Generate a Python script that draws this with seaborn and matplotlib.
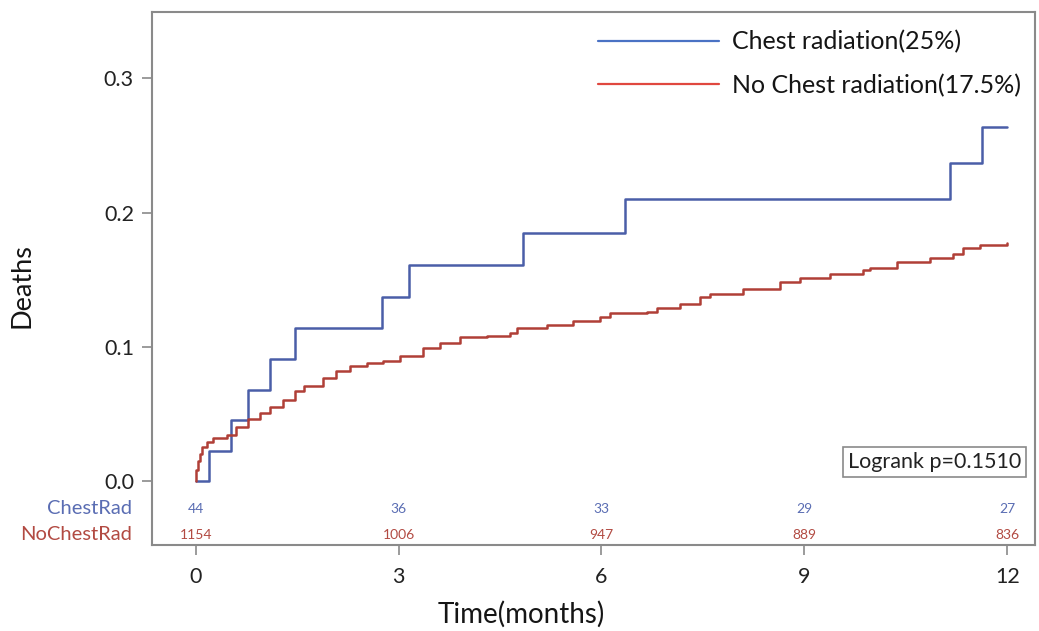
import numpy as np
import pandas as pd
import matplotlib
matplotlib.use("Agg")
import matplotlib.pyplot as plt
import matplotlib.transforms as mtransforms
from matplotlib.lines import Line2D
import seaborn as sns

# ---- data ----
chest_time = [0, 0.19, 0.52, 0.77, 1.10, 1.47, 2.76, 3.15, 4.84, 6.35, 11.15, 11.63, 12.0]
chest_cuminc = [0, 0.0227, 0.0455, 0.068, 0.091, 0.114, 0.137, 0.161, 0.185, 0.210, 0.237, 0.264, 0.264]

nochest_time = [0, 0.01, 0.03, 0.06, 0.10, 0.16, 0.25, 0.46, 0.60, 0.78, 0.95, 1.10, 1.29,
                1.47, 1.60, 1.88, 2.08, 2.28, 2.53, 2.77, 3.02, 3.36, 3.61, 3.91, 4.30,
                4.64, 4.75, 5.19, 5.58, 5.98, 6.12, 6.67, 6.82, 7.16, 7.46, 7.60, 8.00,
                8.09, 8.64, 8.93, 9.38, 9.87, 9.97, 10.37, 10.86, 11.20, 11.35, 11.60, 12.0]
nochest_cuminc = [0, 0.008, 0.015, 0.020, 0.025, 0.029, 0.032, 0.034, 0.040, 0.046, 0.051, 0.055, 0.060,
                  0.067, 0.071, 0.077, 0.082, 0.086, 0.088, 0.0896, 0.093, 0.099, 0.103, 0.107, 0.108,
                  0.110, 0.114, 0.116, 0.119, 0.122, 0.125, 0.126, 0.129, 0.132, 0.137, 0.139, 0.139,
                  0.143, 0.148, 0.151, 0.154, 0.157, 0.159, 0.163, 0.166, 0.169, 0.174, 0.176, 0.177]

series_labels = ["Chest radiation(25%)", "No Chest radiation(17.5%)"]
risk_groups = ["ChestRad", "NoChestRad"]
risk_times = [0, 3, 6, 9, 12]
risk_chest = [44, 36, 33, 29, 27]
risk_nochest = [1154, 1006, 947, 889, 836]
x_ticks = [0, 3, 6, 9, 12]
y_ticks = [0.0, 0.1, 0.2, 0.3]
logrank_text = "Logrank p=0.1510"

# ---- style ----
sns.set_style("white")
plt.rcParams["font.family"] = ["Lato", "DejaVu Sans"]

line_blue = "#4a5ea8"
line_red = "#b03f37"
leg_blue = "#4a72c4"
leg_red = "#e0473f"
txt_blue = "#5a6db3"
txt_red = "#b24a42"
frame_gray = "#8a8a8a"
text_dark = "#151515"

W, H = 1039, 631
fig = plt.figure(figsize=(W / 100, H / 100), dpi=100)
ax = fig.add_axes([152 / W, 1 - 545 / H, (1035 - 152) / W, (545 - 12) / H])

df = pd.concat([
    pd.DataFrame({"Time": chest_time, "Deaths": chest_cuminc, "Group": series_labels[0]}),
    pd.DataFrame({"Time": nochest_time, "Deaths": nochest_cuminc, "Group": series_labels[1]}),
])

sns.lineplot(data=df, x="Time", y="Deaths", hue="Group", estimator=None, sort=False,
             palette={series_labels[0]: line_blue, series_labels[1]: line_red},
             drawstyle="steps-post", linewidth=1.8, ax=ax, legend=False)

ax.set_xlim(-0.646, 12.41)
ax.set_ylim(-0.0477, 0.3495)
ax.set_xticks(x_ticks)
ax.set_xticklabels([str(t) for t in x_ticks])
ax.set_yticks(y_ticks)
ax.set_yticklabels([f"{v:.1f}" for v in y_ticks])

for s in ax.spines.values():
    s.set_visible(True)
    s.set_color(frame_gray)
    s.set_linewidth(1.5)

ax.tick_params(axis="both", which="major", direction="out", length=7, width=1.2,
               color=frame_gray, labelsize=15.5, labelcolor="#222222")
ax.tick_params(axis="y", pad=6)
ax.tick_params(axis="x", pad=9)
ax.tick_params(axis="both", left=True, bottom=True)

ax.set_xlabel("Time(months)", fontsize=20, color=text_dark)
ax.set_ylabel("Deaths", fontsize=19.5, color=text_dark)
ax.xaxis.set_label_coords((521 - 152) / 883, (545 - 614) / 533)
ax.xaxis.label.set_va("center")
ax.yaxis.set_label_coords((22 - 152) / 883, (545 - 286) / 533)
ax.yaxis.label.set_va("center")

# legend
handles = [Line2D([], [], color=leg_blue, lw=1.6), Line2D([], [], color=leg_red, lw=1.6)]
leg = fig.legend(handles, series_labels, loc="upper left",
                 bbox_to_anchor=(598 / W, 1 - 30 / H), frameon=False,
                 fontsize=18, handlelength=4.85, handletextpad=0.52,
                 labelspacing=0.82, borderpad=0, borderaxespad=0)
for t in leg.get_texts():
    t.set_color(text_dark)

# number at risk
risk_y = [-0.0205, -0.0400]
for x, c in zip(risk_times, risk_chest):
    ax.text(x, risk_y[0], str(c), ha="center", va="center", fontsize=10, color=txt_blue)
for x, c in zip(risk_times, risk_nochest):
    ax.text(x, risk_y[1], str(c), ha="center", va="center", fontsize=10, color=txt_red)
trans = mtransforms.blended_transform_factory(ax.transAxes, ax.transData)
ax.text(-0.0227, risk_y[0], risk_groups[0], ha="right", va="center", fontsize=14.5,
        color=txt_blue, transform=trans)
ax.text(-0.0227, risk_y[1], risk_groups[1], ha="right", va="center", fontsize=14.5,
        color=txt_red, transform=trans)

# logrank box
ax.text((1021 - 152) / 883, (545 - 462) / 533, logrank_text, transform=ax.transAxes,
        ha="right", va="center", fontsize=15.5, color="#222222",
        bbox=dict(boxstyle="square,pad=0.22", facecolor="white", edgecolor=frame_gray, linewidth=1.2))

fig.savefig("out.png", dpi=100)
